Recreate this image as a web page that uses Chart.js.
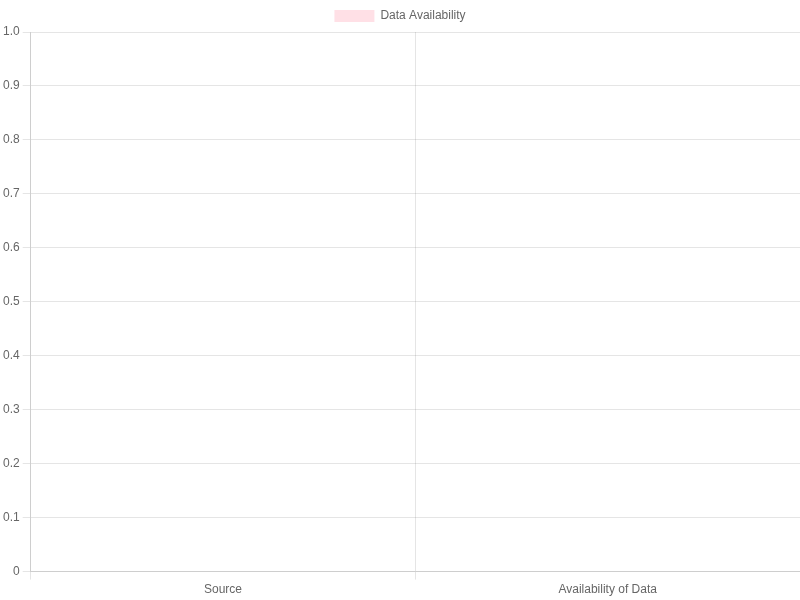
<!DOCTYPE html>
<html>
<head>
<meta charset="utf-8">
<script src="https://cdn.jsdelivr.net/npm/chart.js@4"></script>
<style>
html,body{margin:0;padding:0;background:#fff;}
#wrap{width:800px;height:600px;}
</style>
</head>
<body>
<div id="wrap"><canvas id="c"></canvas></div>
<script>
const categories = ["Source", "Availability of Data"];
const seriesLabel = "Data Availability";
const values = [0, 0];

new Chart(document.getElementById('c'), {
  type: 'bar',
  data: {
    labels: categories,
    datasets: [{
      label: seriesLabel,
      data: values,
      backgroundColor: 'rgba(255, 99, 132, 0.2)',
      borderColor: 'rgba(255, 99, 132, 0.2)',
      borderWidth: 0
    }]
  },
  options: {
    responsive: true,
    maintainAspectRatio: false,
    animation: false,
    scales: {
      y: { beginAtZero: true }
    }
  }
});
</script>
</body>
</html>
